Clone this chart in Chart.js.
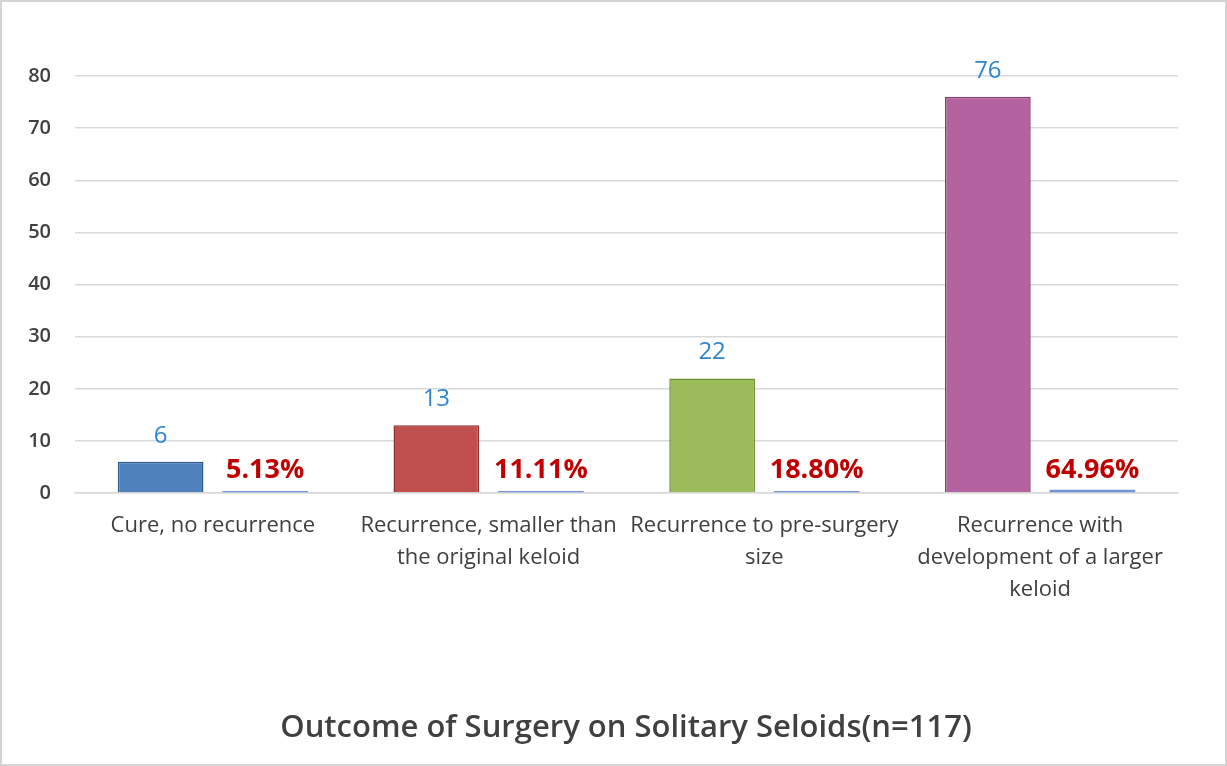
<!DOCTYPE html>
<html>
<head>
<meta charset="utf-8">
<script src="https://cdn.jsdelivr.net/npm/chart.js@4"></script>
<style>
  html, body { margin: 0; padding: 0; background: #fff; }
  #wrap { width: 1223px; height: 762px; border: 2px solid #d4d4d4; }
</style>
</head>
<body>
<div id="wrap"><canvas id="surgeryChart" width="1223" height="762"></canvas></div>
<script>
// chart data
const categories = [
  ["Cure, no recurrence"],
  ["Recurrence, smaller than", "the original keloid"],
  ["Recurrence to pre-surgery", "size"],
  ["Recurrence with", "development of a larger", "keloid"]
];
const counts = [6, 13, 22, 76];
const percents = [5.13, 11.11, 18.80, 64.96];
const yTicks = [0, 10, 20, 30, 40, 50, 60, 70, 80];

const barColors = ["#4F81BD", "#C0504D", "#9BBB59", "#B5639F"];
const barBorders = ["#2F5A8E", "#8E2E2B", "#6E8C36", "#7E3E70"];

// draw the value labels (no datalabels plugin available)
const valueLabels = {
  id: "valueLabels",
  afterDatasetsDraw(chart) {
    const ctx = chart.ctx;
    ctx.save();
    ctx.textAlign = "center";
    ctx.textBaseline = "middle";
    chart.getDatasetMeta(0).data.forEach((bar, i) => {
      ctx.font = "24px 'Open Sans'";
      ctx.fillStyle = "#2E86D1";
      ctx.fillText(counts[i], bar.x, bar.y - 26);
    });
    chart.getDatasetMeta(1).data.forEach((bar, i) => {
      ctx.font = "bold 27px 'Open Sans'";
      ctx.fillStyle = "#C00000";
      ctx.fillText(percents[i].toFixed(2) + "%", bar.x, bar.base - 22);
    });
    ctx.restore();
  }
};

const ctx = document.getElementById("surgeryChart").getContext("2d");
new Chart(ctx, {
  type: "bar",
  data: {
    labels: categories,
    datasets: [
      {
        label: "Count",
        data: counts,
        backgroundColor: barColors,
        borderColor: barBorders,
        borderWidth: 1.5,
        categoryPercentage: 0.758,
        barPercentage: 0.82
      },
      {
        label: "Percent",
        data: percents.map((p) => p / 100),
        backgroundColor: "#6F97D6",
        borderWidth: 0,
        minBarLength: 2,
        categoryPercentage: 0.758,
        barPercentage: 0.82
      }
    ]
  },
  options: {
    responsive: false,
    animation: false,
    layout: { padding: { left: 25, right: 0, top: 74, bottom: 0 } },
    plugins: {
      legend: { display: false },
      tooltip: { enabled: false },
      title: {
        display: true,
        position: "bottom",
        text: "Outcome of Surgery on Solitary Seloids(n=117)",
        color: "#404040",
        font: { family: "Open Sans", size: 31, weight: "600" },
        padding: { top: 95, bottom: 17 }
      }
    },
    scales: {
      x: {
        grid: { display: false },
        border: { color: "#d9d9d9", width: 1.5 },
        ticks: {
          color: "#404040",
          font: { family: "Open Sans", size: 22, lineHeight: 1.45 },
          maxRotation: 0,
          padding: 9
        }
      },
      y: {
        min: 0,
        max: 80,
        afterBuildTicks: (axis) => { axis.ticks = yTicks.map((v) => ({ value: v })); },
        afterFit: (axis) => { axis.width = 48; },
        grid: { color: "#d9d9d9", lineWidth: 1.5, drawTicks: false },
        border: { display: false },
        ticks: {
          color: "#404040",
          font: { family: "Open Sans", size: 20, weight: "600" },
          padding: 24
        }
      },
      // empty right margin so the title sits where the original has it
      yRight: {
        position: "right",
        afterFit: (axis) => { axis.width = 47; },
        grid: { display: false },
        border: { display: false },
        ticks: { display: false }
      }
    }
  },
  plugins: [valueLabels]
});
</script>
</body>
</html>
